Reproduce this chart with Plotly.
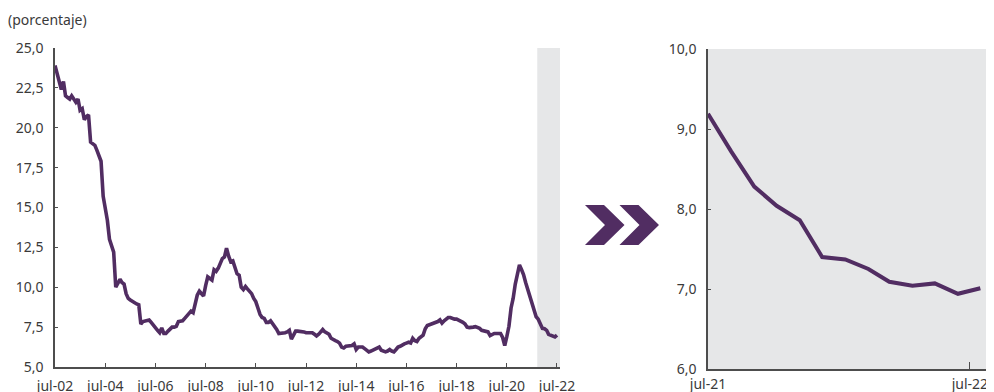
import pandas as pd
import plotly.graph_objects as go

# ---------------- data ----------------
left_start = "2002-07-01"
left_values = [
    23.9, 23.4, 22.9, 22.4, 22.9, 22.0, 21.9, 21.8, 22.0, 21.8, 21.6, 21.8,
    21.1, 21.2, 20.5, 20.7, 20.8, 19.1, 19.0, 18.9, 18.6, 18.3, 17.9, 15.7,
    14.9, 14.2, 13.0, 12.6, 12.2, 10.0, 10.2, 10.5, 10.3, 10.2, 9.6, 9.3,
    9.2, 9.1, 9.0, 8.95, 8.9, 7.7, 7.85, 7.9, 7.9, 7.95, 7.8, 7.6,
    7.5, 7.3, 7.15, 7.45, 7.1, 7.1, 7.25, 7.4, 7.5, 7.5, 7.55, 7.85,
    7.9, 7.9, 8.05, 8.2, 8.35, 8.5, 8.4, 9.1, 9.5, 9.75, 9.6, 9.45,
    10.1, 10.65, 10.55, 10.45, 11.1, 11.0, 11.2, 11.6, 11.8, 11.9, 12.45, 11.95,
    11.6, 11.65, 11.2, 10.85, 10.75, 10.0, 9.85, 10.05, 9.9, 9.75, 9.6, 9.3,
    9.1, 8.7, 8.3, 8.1, 8.05, 7.8, 7.8, 7.9, 7.75, 7.55, 7.35, 7.1,
    7.1, 7.1, 7.15, 7.2, 7.3, 6.75, 7.05, 7.25, 7.25, 7.25, 7.25, 7.2,
    7.15, 7.15, 7.15, 7.15, 7.05, 6.95, 7.05, 7.2, 7.35, 7.2, 7.15, 7.05,
    6.8, 6.7, 6.65, 6.6, 6.5, 6.25, 6.2, 6.3, 6.3, 6.3, 6.35, 6.45,
    6.1, 6.25, 6.25, 6.25, 6.15, 6.05, 5.95, 6.0, 6.05, 6.1, 6.2, 6.25,
    6.05, 6.0, 5.95, 6.0, 6.1, 6.0, 5.95, 6.1, 6.25, 6.3, 6.4, 6.45,
    6.5, 6.55, 6.5, 6.8, 6.65, 6.6, 6.8, 6.9, 7.0, 7.4, 7.6, 7.65,
    7.7, 7.75, 7.75, 7.85, 7.95, 7.75, 7.9, 8.0, 8.1, 8.1, 8.02, 8.0,
    8.0, 7.95, 7.9, 7.8, 7.7, 7.5, 7.47, 7.47, 7.5, 7.53, 7.5, 7.42,
    7.3, 7.25, 7.22, 7.2, 6.97, 7.05, 7.1, 7.1, 7.1, 7.1, 6.85, 6.35,
    6.9, 7.55, 8.7, 9.3, 10.2, 10.9, 11.4, 11.1, 10.8, 10.3, 9.9, 9.5,
    9.1, 8.6, 8.15, 8.0, 7.7, 7.42, 7.4, 7.3, 7.05, 6.98, 6.94, 6.88,
    7.0,
]
left_dates = pd.date_range(left_start, periods=len(left_values), freq="MS")

right_start = "2021-07-01"
right_values = [9.19, 8.72, 8.28, 8.04, 7.86, 7.40, 7.37, 7.25, 7.09, 7.04, 7.07, 6.94, 7.01]
right_dates = pd.date_range(right_start, periods=len(right_values), freq="MS")

left_ticks = ["2002-07-01", "2004-07-01", "2006-07-01", "2008-07-01", "2010-07-01",
              "2012-07-01", "2014-07-01", "2016-07-01", "2018-07-01", "2020-07-01", "2022-07-01"]
left_tick_text = ["jul-02", "jul-04", "jul-06", "jul-08", "jul-10", "jul-12",
                  "jul-14", "jul-16", "jul-18", "jul-20", "jul-22"]
right_ticks = ["2021-07-01", "2022-06-17"]
right_tick_text = ["jul-21", "jul-22"]
left_yticks = [5.0, 7.5, 10.0, 12.5, 15.0, 17.5, 20.0, 22.5, 25.0]
right_yticks = [6.0, 7.0, 8.0, 9.0, 10.0]

unit_label = "(porcentaje)"
shade_start = "2021-09-17"

# ---------------- style ----------------
OFF = 8                      # page body margin in the browser
W, H = 994 - OFF, 392 - OFF  # figure size so it fits the window
LINE = "#512d62"
AX = "#4d4d4d"
TXT = "#3a3a3a"
SHADE = "#e6e7e8"
FONT = "Noto Sans"


def px(x):
    """page pixel x -> paper fraction"""
    return (x - OFF) / W


def py(y):
    """page pixel y -> paper fraction"""
    return 1 - (y - OFF) / H


fig = go.Figure()
fig.add_trace(go.Scatter(x=left_dates, y=left_values, mode="lines",
                         line=dict(color=LINE, width=3.6), xaxis="x", yaxis="y",
                         hoverinfo="x+y", showlegend=False))
fig.add_trace(go.Scatter(x=right_dates, y=right_values, mode="lines",
                         line=dict(color=LINE, width=4), xaxis="x2", yaxis="y2",
                         hoverinfo="x+y", showlegend=False))

axis_common = dict(showgrid=False, zeroline=False, showline=True, linecolor=AX,
                   linewidth=1.5, ticks="inside", tickcolor=AX, tickwidth=1.2,
                   automargin=False,
                   tickfont=dict(family=FONT, size=14, color=TXT))

fig.update_layout(
    template="none",
    width=W, height=H,
    margin=dict(l=0, r=0, t=0, b=0, pad=0, autoexpand=False),
    paper_bgcolor="white", plot_bgcolor="rgba(0,0,0,0)",
    separators=",.",
    font=dict(family=FONT, size=14, color=TXT),
    xaxis=dict(domain=[px(55), px(560)], type="date",
               range=["2002-07-01", "2022-08-14"],
               tickmode="array", tickvals=left_ticks, ticktext=left_tick_text,
               ticklen=4, ticklabelstandoff=5, anchor="y", **axis_common),
    yaxis=dict(domain=[py(367), py(48)], range=[5, 25],
               tickmode="array", tickvals=left_yticks, tickformat=".1f",
               ticklen=3, ticklabelstandoff=7, anchor="x", **axis_common),
    xaxis2=dict(domain=[px(708), min(1.0, px(993))], type="date",
                range=["2021-07-01", "2022-07-18"],
                tickmode="array", tickvals=right_ticks, ticktext=right_tick_text,
                ticklen=7, ticklabelstandoff=1, anchor="y2", **axis_common),
    yaxis2=dict(domain=[py(369), py(49)], range=[6, 10],
                tickmode="array", tickvals=right_yticks, tickformat=".1f",
                ticklen=3, ticklabelstandoff=7, anchor="x2", **axis_common),
)

shapes = [
    # shaded period on left panel
    dict(type="rect", xref="x", yref="y domain", x0=shade_start, x1="2022-08-14",
         y0=0, y1=1, fillcolor=SHADE, line=dict(width=0), layer="below"),
    # right panel background
    dict(type="rect", xref="x2 domain", yref="y2 domain", x0=0, x1=1, y0=0, y1=1,
         fillcolor=SHADE, line=dict(width=0), layer="below"),
]


def chevron(x0, w, notch, tip, ytop, ybot):
    ym = (ytop + ybot) / 2
    pts = [(x0, ytop), (x0 + w, ytop), (x0 + tip, ym), (x0 + w, ybot), (x0, ybot), (x0 + notch, ym)]
    path = "M " + " L ".join(f"{px(a):.5f},{py(b):.5f}" for a, b in pts) + " Z"
    return dict(type="path", xref="paper", yref="paper", path=path,
                fillcolor=LINE, line=dict(width=0))


shapes.append(chevron(585, 19, 20, 39.5, 205, 245))
shapes.append(chevron(619.5, 19, 20, 39.5, 205, 245))
fig.update_layout(shapes=shapes)

fig.add_annotation(text=unit_label, xref="paper", yref="paper", x=px(6), y=py(19),
                   xanchor="left", yanchor="middle", showarrow=False,
                   font=dict(family=FONT, size=14, color=TXT))

fig.write_html("out.html")
